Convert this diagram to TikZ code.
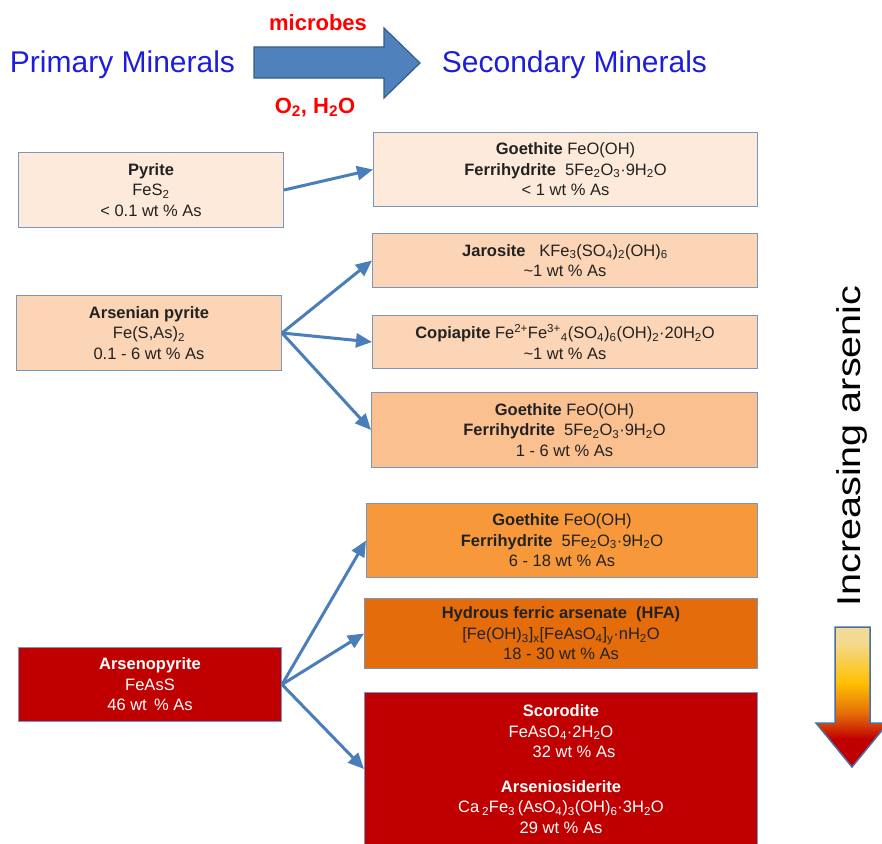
\documentclass[tikz,border=0pt]{standalone}
\usepackage{fontspec}
\setmainfont{Liberation Sans}
\usepackage{graphicx}
\usetikzlibrary{arrows.meta}

\definecolor{mblue}{RGB}{30,30,215}
\definecolor{boxline}{HTML}{7896BE}
\definecolor{boxtext}{HTML}{222222}
\definecolor{flowblue}{HTML}{4A7EBB}
\definecolor{arrfill}{HTML}{4F81BD}
\definecolor{arrline}{HTML}{385D8A}
\definecolor{peachA}{HTML}{FDEADA}
\definecolor{peachB}{HTML}{FBD5B5}
\definecolor{peachC}{HTML}{FAC090}
\definecolor{orangeA}{HTML}{F7983A}
\definecolor{orangeB}{HTML}{E46C0A}
\definecolor{asred}{HTML}{C00000}
\definecolor{asgold}{HTML}{FFC000}
\definecolor{aspale}{HTML}{F3D98A}
\definecolor{asgrey}{HTML}{E6E6E3}
\definecolor{downline}{HTML}{4A6FA0}

\pgfdeclareverticalshading{arsenicshade}{100bp}{color(0bp)=(asred); color(35bp)=(asred); color(44bp)=(orangeB); color(55bp)=(asgold); color(69bp)=(aspale); color(100bp)=(asgrey)}

\begin{document}
\begin{tikzpicture}[x=1pt,y=-1pt,
  hdr/.style={anchor=base,text=mblue,font=\fontsize{30}{36}\selectfont},
  cond/.style={anchor=base,text=red,font=\bfseries\fontsize{22}{26}\selectfont},
  mbox/.style={draw=boxline,line width=1pt,inner sep=0pt,anchor=north west,
    align=center,text=boxtext,font=\fontsize{16.5}{20.5}\selectfont},
  flow/.style={draw=flowblue,line width=3pt,-{Triangle[length=16pt,width=14pt]}}]
\useasboundingbox (0,0) rectangle (882,843);
\clip (0,0) rectangle (882,843);
\fill[white] (0,0) rectangle (882,843);

%% header
\node[hdr] (primary) at (122.5,72) {Primary Minerals};
\node[hdr] (secondary) at (574.5,72) {Secondary Minerals};
\filldraw[fill=arrfill,draw=arrline,line width=1.2pt]
  (254,47) -- (384,47) -- (384,28) -- (420,63) -- (384,98) -- (384,78) -- (254,78) -- cycle;
\node[cond] (microbes) at (318,31) {microbes};
\node[cond] (oxy) at (315,113) {O\textsubscript{2}, H\textsubscript{2}O};

%% primary minerals
\node[mbox,fill=peachA,minimum width=265,minimum height=75] (pyrite) at (18,152)
  {\textbf{Pyrite}\\ FeS\textsubscript{2}\\ < 0.1 wt \% As};
\node[mbox,fill=peachB,minimum width=265,minimum height=75] (arsp) at (16,295)
  {\textbf{Arsenian pyrite}\\ Fe(S,As)\textsubscript{2}\\ 0.1 - 6 wt \% As};
\node[mbox,fill=asred,text=white,minimum width=263,minimum height=74] (arsno) at (18,647)
  {\textbf{Arsenopyrite}\\ FeAsS\\ 46 wt \,\% As};

%% secondary minerals
\node[mbox,fill=peachA,minimum width=384,minimum height=74] (goeA) at (373,132)
  {\textbf{Goethite} FeO(OH)\\ \textbf{Ferrihydrite}\ \ 5Fe\textsubscript{2}O\textsubscript{3}·9H\textsubscript{2}O\\ < 1 wt \% As};
\node[mbox,fill=peachB,minimum width=385,minimum height=54] (jaro) at (372,233)
  {\textbf{Jarosite}\ \ \ KFe\textsubscript{3}(SO\textsubscript{4})\textsubscript{2}(OH)\textsubscript{6}\\ \textasciitilde1 wt \% As};
\node[mbox,fill=peachB,minimum width=385,minimum height=53] (copi) at (372,315)
  {\textbf{Copiapite} Fe\textsuperscript{2+}Fe\textsuperscript{3+}\textsubscript{4}(SO\textsubscript{4})\textsubscript{6}(OH)\textsubscript{2}·20H\textsubscript{2}O\\ \textasciitilde1 wt \% As};
\node[mbox,fill=peachC,minimum width=386,minimum height=75] (goeB) at (371,392)
  {\textbf{Goethite} FeO(OH)\\ \textbf{Ferrihydrite}\ \ 5Fe\textsubscript{2}O\textsubscript{3}·9H\textsubscript{2}O\\ 1 - 6 wt \% As};
\node[mbox,fill=orangeA,minimum width=391,minimum height=74] (goeC) at (366,503)
  {\textbf{Goethite} FeO(OH)\\ \textbf{Ferrihydrite}\ \ 5Fe\textsubscript{2}O\textsubscript{3}·9H\textsubscript{2}O\\ 6 - 18 wt \% As};
\node[mbox,fill=orangeB,minimum width=393,minimum height=70] (hfa) at (364,598)
  {\textbf{Hydrous ferric arsenate\ \ (HFA)}\\ {[}Fe(OH)\textsubscript{3}{]}\textsubscript{x}{[}FeAsO\textsubscript{4}{]}\textsubscript{y}·nH\textsubscript{2}O\\ 18 - 30 wt \% As};
\node[mbox,fill=asred,text=white,minimum width=393,minimum height=153] (scor) at (364,692)
  {\textbf{Scorodite}\\ FeAsO\textsubscript{4}·2H\textsubscript{2}O\\ \hspace*{26pt}32 wt \% As\\[14pt]
   \textbf{Arseniosiderite}\\ Ca\,\textsubscript{2}Fe\textsubscript{3}\,(AsO\textsubscript{4})\textsubscript{3}(OH)\textsubscript{6}·3H\textsubscript{2}O\\ 29 wt \% As};

%% weathering paths
\draw[flow] (pyrite.east) -- (goeA.west);
\draw[flow] (arsp.east) -- (jaro.west);
\draw[flow] (arsp.east) -- (copi.west);
\draw[flow] (arsp.east) -- (goeB.west);
\draw[flow] (arsno.east) -- (goeC.west);
\draw[flow] (arsno.east) -- (hfa.west);
\draw[flow] (arsno.east) -- (scor.west);

%% increasing arsenic
\node[rotate=90,text=black,font=\fontsize{33}{40}\selectfont] (incr) at (852,446)
  {\scalebox{1.2}[1]{Increasing arsenic}};
\shade[shading=arsenicshade]
  (835,627) -- (870,627) -- (870,723) -- (888,723) -- (852,767) -- (816,723) -- (835,723) -- cycle;
\draw[downline,line width=1.5pt,line join=miter]
  (835,627) -- (870,627) -- (870,723) -- (888,723) -- (852,767) -- (816,723) -- (835,723) -- cycle;
\end{tikzpicture}
\end{document}
